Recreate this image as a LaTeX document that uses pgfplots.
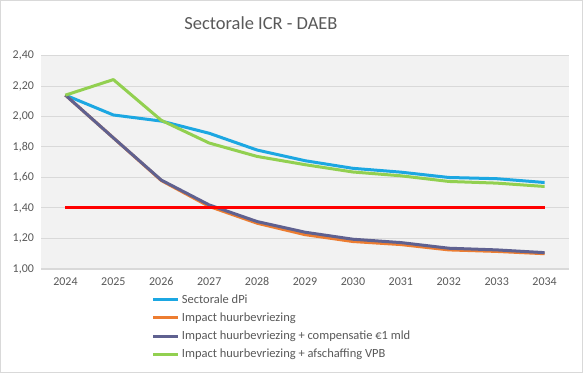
\documentclass[border=0pt]{standalone}
\usepackage{pgfplots}
\pgfplotsset{compat=1.18}
\usepackage{fontspec}
\setmainfont{Carlito}
\definecolor{bgc}{HTML}{F2F2F2}
\definecolor{gridc}{HTML}{D9D9D9}
\definecolor{txtc}{HTML}{595959}
\definecolor{cblue}{HTML}{1CA7E2}
\definecolor{corange}{HTML}{ED7D31}
\definecolor{cpurple}{HTML}{5F6190}
\definecolor{cgreen}{HTML}{92D050}
\definecolor{cred}{HTML}{FF0000}
\begin{document}
\begin{tikzpicture}[x=1bp,y=1bp]
\draw[gridc,line width=0.8bp,fill=white] (1,1) rectangle (582,372);
\node[text=txtc,font=\fontsize{18.5}{20}\selectfont] at (261,349) {Sectorale ICR - DAEB};
\begin{axis}[
  at={(42bp,104bp)}, anchor=south west,
  width=526bp, height=213bp, scale only axis,
  xmin=-0.5, xmax=10.5, ymin=1, ymax=2.4,
  axis background/.style={fill=bgc},
  axis line style={draw=none},
  xtick={0,...,10},
  xticklabels={2024,2025,2026,2027,2028,2029,2030,2031,2032,2033,2034},
  ytick={1,1.2,1.4,1.6,1.8,2,2.2,2.4},
  ymajorgrids, grid style={gridc,line width=1bp},
  major tick length=0pt,
  tick label style={text=txtc,font=\fontsize{12}{14}\selectfont},
  y tick label style={xshift=-4bp},
  x tick label style={yshift=-5bp},
  /pgf/number format/.cd,use comma,fixed,fixed zerofill,precision=2,assume math mode=true,
  /pgfplots/.cd,
  legend style={at={(0.209,-0.11)},anchor=north west,draw=none,fill=none,
    font=\fontsize{12.5}{14}\selectfont,text=txtc,
    row sep=4bp, inner sep=0pt},
  legend cell align=left,
  legend image code/.code={\draw[#1,line width=3bp] (0bp,0bp) -- (25bp,0bp);},
  every axis plot/.append style={line width=3bp,line join=round},
  clip=false,
]
\draw[gridc,line width=1.2bp] (axis cs:-0.5,1) -- (axis cs:10.5,1);
\addplot[cblue] coordinates {(0,2.14)(1,2.01)(2,1.97)(3,1.89)(4,1.78)(5,1.71)(6,1.66)(7,1.635)(8,1.60)(9,1.592)(10,1.567)};
\addlegendentry{Sectorale dPi}
\addplot[corange] coordinates {(0,2.14)(1,1.86)(2,1.58)(3,1.41)(4,1.30)(5,1.225)(6,1.18)(7,1.16)(8,1.125)(9,1.115)(10,1.10)};
\addlegendentry{Impact huurbevriezing}
\addplot[cpurple] coordinates {(0,2.14)(1,1.86)(2,1.583)(3,1.42)(4,1.311)(5,1.241)(6,1.195)(7,1.173)(8,1.136)(9,1.125)(10,1.107)};
\addlegendentry{Impact huurbevriezing + compensatie €1 mld}
\addplot[cgreen] coordinates {(0,2.14)(1,2.242)(2,1.975)(3,1.826)(4,1.738)(5,1.684)(6,1.636)(7,1.611)(8,1.574)(9,1.563)(10,1.541)};
\addlegendentry{Impact huurbevriezing + afschaffing VPB}
\addplot[cred,forget plot] coordinates {(0,1.4)(1,1.4)(2,1.4)(3,1.4)(4,1.4)(5,1.4)(6,1.4)(7,1.4)(8,1.4)(9,1.4)(10,1.4)};
\end{axis}
\end{tikzpicture}
\end{document}
